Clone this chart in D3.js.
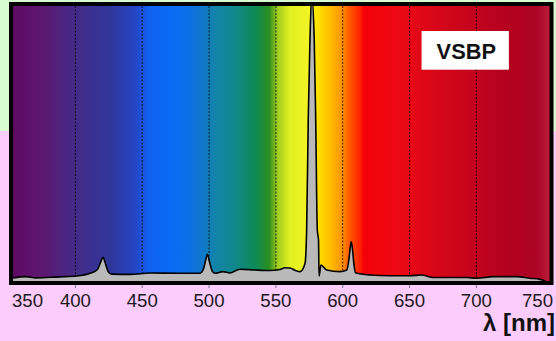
<!DOCTYPE html>
<html>
<head>
<meta charset="utf-8">
<script src="https://cdn.jsdelivr.net/npm/d3@7"></script>
<style>
  html, body { margin: 0; padding: 0; background: #fccdfc; }
  svg { display: block; }
</style>
</head>
<body>
<div id="chart"></div>
<script>
// spectrum trace: wavelength (nm) and relative intensity (% of plot height)
const wavelengths = [353, 363, 370, 388, 401, 411, 416.5, 418.8, 420.6, 422.4, 424.5, 427, 441,
  456, 478, 493, 495.5, 497.2, 498.7, 500.4, 502.4, 504.4, 510.4, 515.6, 523, 534, 545.6, 553,
  556.8, 560.5, 564.3, 568, 571.8, 573, 574.2, 575.5, 576.8, 578.7, 579.8, 581, 581.9, 582.3,
  583.7, 588, 598, 603, 604.8, 605.7, 606.4, 607.2, 608.3, 609.6, 620.4, 635.4, 650.4, 659,
  667.6, 693, 700.3, 712.5, 730.4, 740.1, 747.6, 751.4];
const intensity = [1.1, 1.6, 1.1, 1.5, 1.8, 2.8, 4.2, 6.8, 8.6, 6.4, 3.4, 2.5, 2.4,
  2.9, 2.8, 2.8, 4.0, 7.0, 9.7, 6.8, 3.6, 2.8, 3.4, 2.9, 4.3, 4.0, 3.8, 4.2,
  4.8, 4.7, 3.9, 3.4, 6.4, 18.5, 58.5, 87.6, 104, 87.6, 58.5, 18.5, 14.9, 1.8,
  5.8, 4.0, 3.4, 4.0, 8.5, 12.5, 14.3, 12.0, 6.5, 3.0, 2.2, 1.9, 1.9, 2.2,
  1.3, 1.3, 1.0, 1.6, 1.6, 1.0, 0.6, 0.0];

// colour of the visible spectrum behind the trace
const bandNm = [353, 375, 400, 425, 445, 455, 470, 485, 495, 505, 520, 535, 545, 551, 560,
  575, 578, 590, 600, 603, 613, 616, 640, 670, 700, 730, 745, 755];
const bandColor = ['#5f0a62', '#5c1870', '#442b88', '#30369a', '#2545c5', '#1060f0', '#0a6cf5',
  '#0a70e6', '#0f78cc', '#1284a8', '#10888a', '#0e8a55', '#2a8e20', '#9ccc20', '#e0f020',
  '#f4f424', '#ffee00', '#ffc000', '#ff9000', '#ff6a00', '#ff2000', '#f40008', '#ee0a14',
  '#d80618', '#c2041e', '#b00020', '#ac0424', '#b91c3c'];

const gridTicks = [400, 450, 500, 550, 600, 650, 700];
const labelTicks = [350, 400, 450, 500, 550, 600, 650, 700, 750];
const axisTitle = 'λ [nm]';
const tag = 'VSBP';

const W = 556, H = 341;
const plot = { left: 13, top: 6, right: 550, bottom: 281 };

const svg = d3.select('#chart').append('svg')
  .attr('width', W).attr('height', H);

// two-tone page background
svg.append('rect').attr('width', W).attr('height', H).attr('fill', '#fccdfc');
svg.append('rect').attr('width', W).attr('height', 131).attr('fill', '#d9fbd2');

const x = d3.scaleLinear().domain([353.3, 755.1]).range([plot.left, plot.right]);
const y = d3.scaleLinear().domain([0, 100]).range([plot.bottom, plot.top]);

const defs = svg.append('defs');
const grad = defs.append('linearGradient')
  .attr('id', 'spectrum')
  .attr('gradientUnits', 'userSpaceOnUse')
  .attr('x1', plot.left).attr('x2', plot.right)
  .attr('y1', 0).attr('y2', 0);
bandNm.forEach((nm, i) => {
  grad.append('stop')
    .attr('offset', (x(nm) - plot.left) / (plot.right - plot.left))
    .attr('stop-color', bandColor[i]);
});

defs.append('clipPath').attr('id', 'plotClip')
  .append('rect')
  .attr('x', plot.left).attr('y', plot.top)
  .attr('width', plot.right - plot.left).attr('height', plot.bottom - plot.top);

svg.append('rect')
  .attr('x', plot.left).attr('y', plot.top)
  .attr('width', plot.right - plot.left).attr('height', plot.bottom - plot.top)
  .attr('fill', 'url(#spectrum)');

// dotted grid lines
svg.append('g')
  .selectAll('line')
  .data(gridTicks)
  .join('line')
  .attr('x1', d => x(d)).attr('x2', d => x(d))
  .attr('y1', plot.top).attr('y2', plot.bottom)
  .attr('stroke', '#000')
  .attr('stroke-opacity', 0.8)
  .attr('stroke-width', 1)
  .attr('stroke-dasharray', '2,1.5');

// spectrum trace
const data = wavelengths.map((w, i) => ({ w, v: intensity[i] }));
const area = d3.area()
  .x(d => x(d.w))
  .y0(y(0))
  .y1(d => y(d.v))
  .curve(d3.curveMonotoneX);
const line = d3.line()
  .x(d => x(d.w))
  .y(d => y(d.v))
  .curve(d3.curveMonotoneX);

const traceG = svg.append('g').attr('clip-path', 'url(#plotClip)');
traceG.append('path').datum(data)
  .attr('fill', '#b9b9b9')
  .attr('d', area);
traceG.append('path').datum(data)
  .attr('fill', 'none')
  .attr('stroke', '#000')
  .attr('stroke-width', 1.6)
  .attr('stroke-linejoin', 'round')
  .attr('d', line);

// frame
svg.append('rect')
  .attr('x', plot.left - 2).attr('y', plot.top - 2)
  .attr('width', plot.right - plot.left + 3.5)
  .attr('height', plot.bottom - plot.top + 4)
  .attr('fill', 'none')
  .attr('stroke', '#000')
  .attr('stroke-width', 4);

// tick marks below the frame
svg.append('g')
  .selectAll('line')
  .data(gridTicks)
  .join('line')
  .attr('x1', d => x(d)).attr('x2', d => x(d))
  .attr('y1', plot.bottom + 4).attr('y2', plot.bottom + 7)
  .attr('stroke', '#777')
  .attr('stroke-width', 1);

// tick labels, kept inside the frame's horizontal extent
const labels = svg.append('g')
  .selectAll('text')
  .data(labelTicks)
  .join('text')
  .attr('x', d => x(d))
  .attr('y', 307)
  .attr('text-anchor', 'middle')
  .attr('font-family', 'Liberation Sans, Arial, sans-serif')
  .attr('font-size', 18.6)
  .attr('fill', '#1a1a1a')
  .text(d => d);
labels.each(function (d) {
  const b = this.getBBox();
  let cx = x(d);
  const lo = plot.left - 1 + b.width / 2;
  const hi = plot.right + 3 - b.width / 2;
  cx = Math.max(lo, Math.min(hi, cx));
  d3.select(this).attr('x', cx);
});

// axis title
svg.append('text')
  .attr('x', W - 1)
  .attr('y', 331)
  .attr('text-anchor', 'end')
  .attr('font-family', 'Liberation Sans, Arial, sans-serif')
  .attr('font-weight', 'bold')
  .attr('font-size', 24)
  .attr('fill', '#111')
  .text(axisTitle);

// tag box
const tagG = svg.append('g')
  .attr('transform', `translate(${x(691.7)},${plot.top + 44})`);
tagG.append('rect')
  .attr('x', -43.7).attr('y', -19)
  .attr('width', 87.3).attr('height', 38.7)
  .attr('fill', '#fff');
tagG.append('text')
  .attr('x', 1)
  .attr('y', 8.5)
  .attr('text-anchor', 'middle')
  .attr('font-family', 'Liberation Sans, Arial, sans-serif')
  .attr('font-weight', 'bold')
  .attr('font-size', 21.8)
  .attr('fill', '#111')
  .text(tag);
</script>
</body>
</html>
